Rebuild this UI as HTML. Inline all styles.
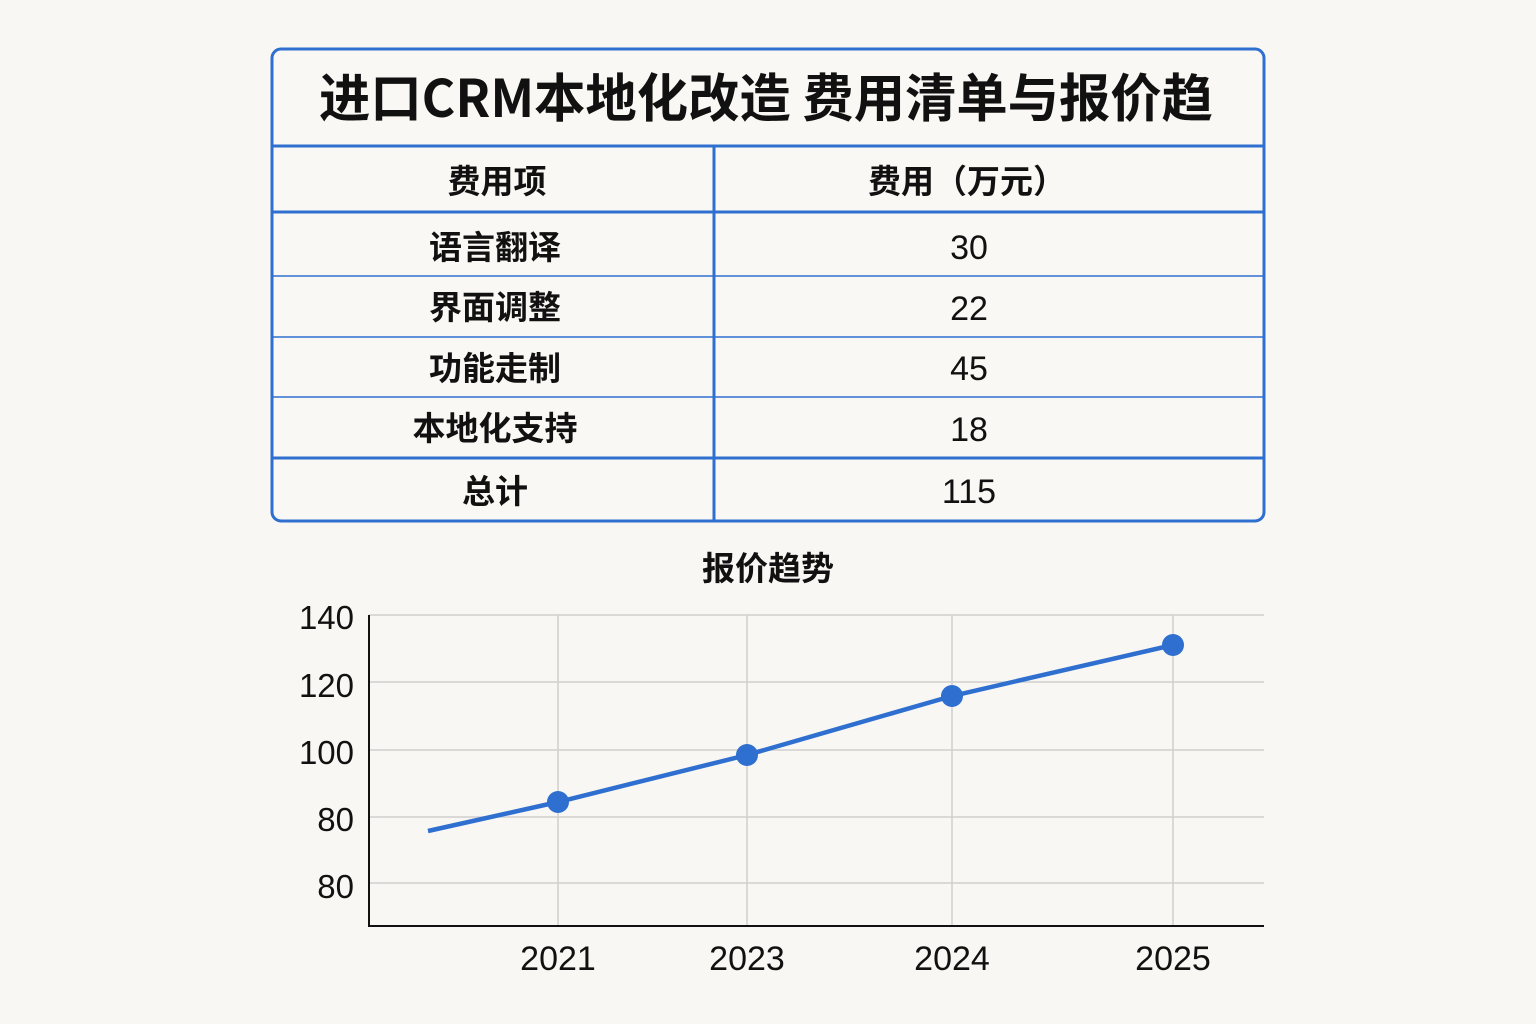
<!DOCTYPE html>
<html><head><meta charset="utf-8"><style>
html,body{margin:0;padding:0;background:#f8f7f3;}
svg{display:block}
text{font-family:"Liberation Sans","Noto Sans CJK SC",sans-serif;fill:#111;}
.cj{font-family:"Noto Sans CJK SC","WenQuanYi Zen Hei",sans-serif;font-weight:700;}
</style></head><body>
<svg width="1536" height="1024" viewBox="0 0 1536 1024" xmlns="http://www.w3.org/2000/svg">
<rect width="1536" height="1024" fill="#f8f7f3"/>
<rect x="272" y="49" width="992" height="472" rx="9" fill="#f9f8f4" stroke="#2e6fd0" stroke-width="3"/>
<line x1="272" y1="146" x2="1264" y2="146" stroke="#2e6fd0" stroke-width="3"/>
<line x1="272" y1="212" x2="1264" y2="212" stroke="#2e6fd0" stroke-width="3"/>
<line x1="272" y1="276" x2="1264" y2="276" stroke="#2e6fd0" stroke-width="1.5"/>
<line x1="272" y1="337" x2="1264" y2="337" stroke="#2e6fd0" stroke-width="1.5"/>
<line x1="272" y1="397" x2="1264" y2="397" stroke="#2e6fd0" stroke-width="1.5"/>
<line x1="272" y1="458" x2="1264" y2="458" stroke="#2e6fd0" stroke-width="3"/>
<line x1="714" y1="146" x2="714" y2="521" stroke="#2e6fd0" stroke-width="3"/>
<text x="766" y="117" text-anchor="middle" font-size="52" textLength="894" lengthAdjust="spacingAndGlyphs" class="cj">进口CRM本地化改造 费用清单与报价趋</text>
<g font-size="33" text-anchor="middle">
<text x="497" y="193" class="cj">费用项</text>
<text x="967" y="193" class="cj">费用（万元）</text>
<text x="495" y="259" class="cj">语言翻译</text>
<text x="495" y="319" class="cj">界面调整</text>
<text x="495" y="380" class="cj">功能走制</text>
<text x="495" y="440" class="cj">本地化支持</text>
<text x="495" y="503" class="cj">总计</text>
</g>
<g font-size="34" text-anchor="middle">
<text x="969" y="259">30</text>
<text x="969" y="320">22</text>
<text x="969" y="380">45</text>
<text x="969" y="441">18</text>
<text x="969" y="503">115</text>
</g>
<text x="768" y="580" text-anchor="middle" font-size="33" class="cj">报价趋势</text>
<g stroke="#cfcfcf" stroke-width="1.5">
<line x1="369" y1="615" x2="1264" y2="615"/>
<line x1="369" y1="682" x2="1264" y2="682"/>
<line x1="369" y1="750" x2="1264" y2="750"/>
<line x1="369" y1="817" x2="1264" y2="817"/>
<line x1="369" y1="883" x2="1264" y2="883"/>
<line x1="558" y1="615" x2="558" y2="926"/>
<line x1="747" y1="615" x2="747" y2="926"/>
<line x1="952" y1="615" x2="952" y2="926"/>
<line x1="1173" y1="615" x2="1173" y2="926"/>
</g>
<polyline points="369,615 369,926 1264,926" fill="none" stroke="#111" stroke-width="2"/>
<g font-size="33" text-anchor="end">
<text x="354" y="629">140</text>
<text x="354" y="697">120</text>
<text x="354" y="764">100</text>
<text x="354" y="831">80</text>
<text x="354" y="898">80</text>
</g>
<g font-size="34" text-anchor="middle">
<text x="558" y="970">2021</text>
<text x="747" y="970">2023</text>
<text x="952" y="970">2024</text>
<text x="1173" y="970">2025</text>
</g>
<polyline points="428,831 558,802 747,755 952,696 1173,645" fill="none" stroke="#2e6fd0" stroke-width="4.5"/>
<g fill="#2e6fd0">
<circle cx="558" cy="802" r="11"/>
<circle cx="747" cy="755" r="11"/>
<circle cx="952" cy="696" r="11"/>
<circle cx="1173" cy="645" r="11"/>
</g>
</svg>
</body></html>
